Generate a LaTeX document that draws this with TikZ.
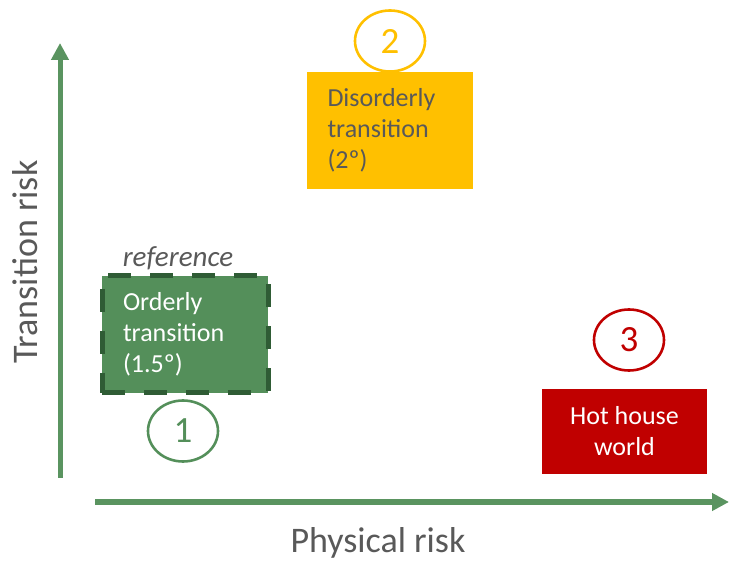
\documentclass[tikz,border=0pt]{standalone}
\usepackage{fontspec}
\setmainfont{Carlito}
\usepackage{tikz}
\usetikzlibrary{arrows.meta,positioning,shapes.geometric}
\definecolor{orderly}{HTML}{548F5A}
\definecolor{orderlyedge}{HTML}{2F5C35}
\definecolor{disorderly}{HTML}{FFC000}
\definecolor{hothouse}{HTML}{C00000}
\definecolor{axis}{HTML}{5A9460}
\definecolor{label}{HTML}{595959}

\begin{document}
\begin{tikzpicture}[x=1pt,y=-1pt,font=\fontsize{26}{31}\selectfont,
  scenario/.style={inner ysep=0pt,inner xsep=21pt,text width=124pt,minimum height=117pt,align=left},
  badge/.style={ellipse,draw,line width=2.6pt,minimum width=70pt,minimum height=61pt,inner sep=0pt,
                font=\fontsize{37}{40}\selectfont},
  axisline/.style={draw=axis,line width=5pt,-{Triangle[length=17pt,width=17pt]}}]
  \useasboundingbox (0,0) rectangle (729,561);
  % axes
  \coordinate (ybot) at (60,478); \coordinate (ytop) at (60,43);
  \coordinate (xleft) at (95,502); \coordinate (xright) at (729,502);
  \draw[axisline] (ybot) -- (ytop);
  \draw[axisline] (xleft) -- (xright);
  \node[font=\fontsize{36}{40}\selectfont,text=label,anchor=base] (xlab) at (378,552) {Physical risk};
  \node[font=\fontsize{36}{40}\selectfont,text=label,anchor=base,rotate=90] (ylab) at (37,262) {Transition risk};
  % orderly
  \node[scenario,fill=orderly,text=white,draw=orderlyedge,line width=5pt,
        dash pattern=on 23pt off 19pt] (orderly) at (185,334.5)
    {Orderly\\transition\\(1.5º)};
  \node[font=\fontsize{29}{31}\selectfont\itshape,text=label,anchor=base] (ref) at (178,267) {reference};
  \node[badge,draw=orderly,text=orderly] (one) at (183,431) {1};
  % disorderly
  \node[scenario,fill=disorderly,text=label] (disorderly) at (389.5,130.5)
    {Disorderly\\transition\\(2º)};
  \node[badge,draw=disorderly,fill=white,text=disorderly] (two) at (390,41) {2};
  % hot house
  \node[inner sep=0pt,minimum width=165pt,minimum height=85pt,align=center,
        fill=hothouse,text=white] (hothouse) at (624.5,431.5) {Hot house\\world};
  \node[badge,draw=hothouse,text=hothouse] (three) at (629,340) {3};
\end{tikzpicture}
\end{document}
